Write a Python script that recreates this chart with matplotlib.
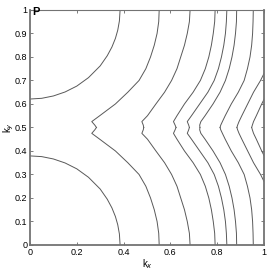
import matplotlib
matplotlib.use("Agg")
import matplotlib.pyplot as plt

plt.rcParams['font.family'] = ['Liberation Sans', 'DejaVu Sans']

# ky levels at which the contour kx positions were read (lower and upper half)
ky_lo = [0.0, 0.05, 0.1, 0.15, 0.2, 0.25, 0.3, 0.35, 0.4, 0.45, 0.475, 0.49, 0.5]
ky_hi = [1.0, 0.95, 0.9, 0.85, 0.8, 0.75, 0.7, 0.65, 0.6, 0.55, 0.525, 0.51, 0.5]

# contour kx positions (same values in both halves)
curve_b = [0.552, 0.550, 0.543, 0.531, 0.515, 0.495, 0.466, 0.418, 0.365, 0.298, 0.264, 0.277, 0.284]
curve_d = [0.684, 0.681, 0.672, 0.660, 0.644, 0.628, 0.605, 0.575, 0.538, 0.502, 0.478, 0.484, 0.486]
curve_e = [0.791, 0.789, 0.783, 0.775, 0.764, 0.749, 0.728, 0.697, 0.660, 0.628, 0.613, 0.620, 0.624]
curve_f = [0.841, 0.839, 0.835, 0.828, 0.818, 0.805, 0.787, 0.760, 0.725, 0.690, 0.672, 0.678, 0.681]
curve_g = [0.883, 0.882, 0.878, 0.872, 0.863, 0.851, 0.835, 0.812, 0.782, 0.748, 0.730, 0.725, 0.726]
curve_h = [0.954, 0.953, 0.951, 0.947, 0.940, 0.929, 0.915, 0.890, 0.860, 0.834, 0.822, 0.815, 0.812]

# contours that leave through the right edge
ky_i_lo = [0.27, 0.3, 0.35, 0.4, 0.45, 0.475, 0.49, 0.5]
ky_i_hi = [0.73, 0.7, 0.65, 0.6, 0.55, 0.525, 0.51, 0.5]
curve_i = [1.0, 0.985, 0.955, 0.930, 0.905, 0.893, 0.887, 0.884]
ky_j_lo = [0.38, 0.4, 0.45, 0.475, 0.49, 0.5]
ky_j_hi = [0.62, 0.6, 0.55, 0.525, 0.51, 0.5]
curve_j = [1.0, 0.990, 0.967, 0.955, 0.950, 0.947]

# arcs around the corners (0,0) and (0,1)
arc_kx = [0.0, 0.05, 0.1, 0.15, 0.2, 0.25, 0.3, 0.33, 0.35, 0.365, 0.375, 0.382, 0.385]
arc_lo = [0.379, 0.376, 0.366, 0.349, 0.324, 0.288, 0.238, 0.195, 0.158, 0.121, 0.086, 0.047, 0.0]
arc_hi = [0.621, 0.624, 0.634, 0.651, 0.676, 0.712, 0.762, 0.805, 0.842, 0.879, 0.914, 0.953, 1.0]

fig = plt.figure(figsize=(2.7, 2.73), dpi=100)
ax = fig.add_axes([0.111, 0.1026, 0.867, 0.861])

lc = '0.35'
lw = 0.7
for c in [curve_b, curve_d, curve_e, curve_f, curve_g, curve_h]:
    ax.plot(c, ky_lo, color=lc, lw=lw)
    ax.plot(c, ky_hi, color=lc, lw=lw)
ax.plot(curve_i, ky_i_lo, color=lc, lw=lw)
ax.plot(curve_i, ky_i_hi, color=lc, lw=lw)
ax.plot(curve_j, ky_j_lo, color=lc, lw=lw)
ax.plot(curve_j, ky_j_hi, color=lc, lw=lw)
ax.plot(arc_kx, arc_lo, color=lc, lw=lw)
ax.plot(arc_kx, arc_hi, color=lc, lw=lw)

ax.set_xlim(0, 1)
ax.set_ylim(0, 1)
ax.set_xticks([0, 0.2, 0.4, 0.6, 0.8, 1])
ax.set_xticklabels(['0', '0.2', '0.4', '0.6', '0.8', '1'])
ax.set_yticks([0, 0.1, 0.2, 0.3, 0.4, 0.5, 0.6, 0.7, 0.8, 0.9, 1])
ax.set_yticklabels(['0', '0.1', '0.2', '0.3', '0.4', '0.5', '0.6', '0.7', '0.8', '0.9', '1'])
ax.tick_params(direction='in', length=2.5, width=0.6, top=True, right=True,
               labelsize=6.5, pad=2, color='0.4')
for side in ['left', 'bottom', 'right']:
    ax.spines[side].set_linewidth(1.3)
    ax.spines[side].set_color('0.45')
ax.spines['top'].set_linewidth(0.8)
ax.spines['top'].set_color('0.45')

ax.set_xlabel('k$_x$', fontsize=7, labelpad=0)
ax.set_ylabel('k$_y$', fontsize=7, labelpad=-1)
ax.text(0.008, 1.012, 'P', transform=ax.transAxes, fontsize=8, fontweight='bold',
        ha='left', va='top')

fig.savefig("out.png", dpi=100)
